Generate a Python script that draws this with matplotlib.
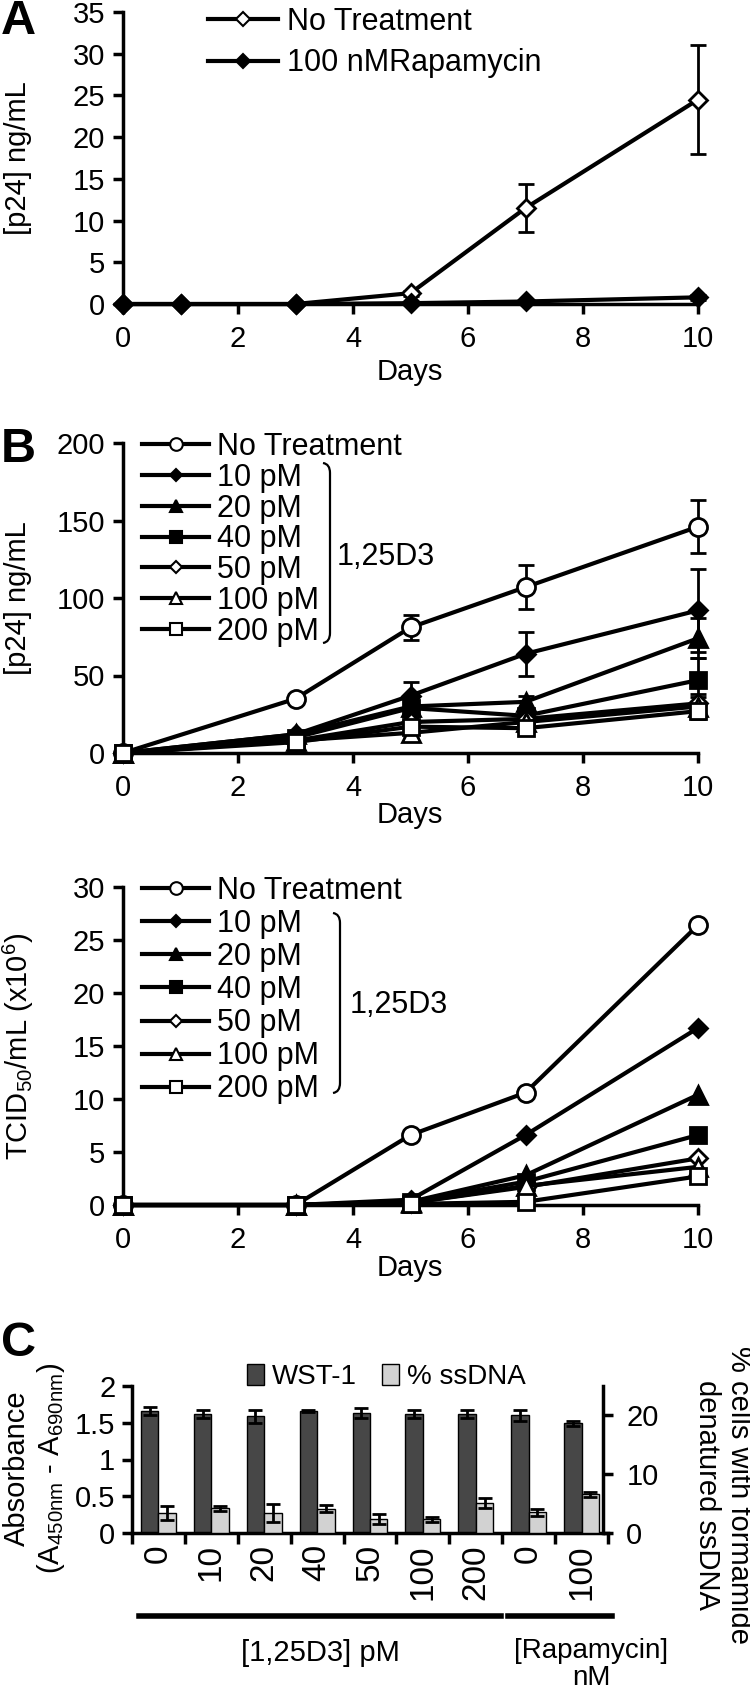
import matplotlib

matplotlib.use("Agg")

import matplotlib.pyplot as plt
import numpy as np
from matplotlib.lines import Line2D
from matplotlib.patches import Patch, PathPatch
from matplotlib.path import Path

plt.rcParams['font.family'] = ['Liberation Sans', 'DejaVu Sans']
plt.rcParams['mathtext.fontset'] = 'custom'
plt.rcParams['mathtext.rm'] = 'Liberation Sans'
plt.rcParams['mathtext.it'] = 'Liberation Sans:italic'

# ---------------------------
# data
# ---------------------------
# A: p24, rapamycin
a_days = [0, 1, 3, 5, 7, 10]
a_none = [0, 0, 0, 1.3, 11.5, 24.5]
a_none_err = [0, 0, 0, 0.3, 2.9, 6.5]
a_rapa = [0, 0, 0, 0.1, 0.3, 0.8]
a_rapa_err = [0, 0, 0, 0, 0.1, 0.3]
a_labels = ["No Treatment", "100 nMRapamycin"]

# B: 1,25D3 doses
b_days = [0, 3, 5, 7, 10]
b_labels = ["No Treatment", "10 pM", "20 pM", "40 pM", "50 pM", "100 pM", "200 pM"]

p24_none = [0, 35, 81, 107, 146]
p24_10 = [0, 12, 37, 64, 92]
p24_20 = [0, 12, 30, 33, 74]
p24_40 = [0, 10, 29, 24, 47]
p24_50 = [0, 8, 20, 22, 32]
p24_100 = [0, 8, 13, 20, 30]
p24_200 = [0, 7, 17, 16, 27]
p24_none_err = [0, 3, 8, 14, 17]
p24_10_err = [0, 2, 9, 14, 27]
p24_20_err = [0, 2, 4, 4, 13]
p24_40_err = [0, 2, 4, 3, 14]
p24_50_err = [0, 1, 3, 3, 4]
p24_100_err = [0, 1, 3, 3, 8]
p24_200_err = [0, 1, 3, 3, 4]

tcid_none = [0, 0, 6.6, 10.6, 26.4]
tcid_10 = [0, 0, 0.5, 6.6, 16.7]
tcid_20 = [0, 0, 0.3, 2.8, 10.4]
tcid_40 = [0, 0, 0.3, 2.2, 6.6]
tcid_50 = [0, 0, 0.2, 1.7, 4.4]
tcid_100 = [0, 0, 0.2, 1.8, 3.6]
tcid_200 = [0, 0, 0.1, 0.3, 2.7]

# C: viability bars
c_groups = ["0", "10", "20", "40", "50", "100", "200", "0", "100"]
wst1 = [1.66, 1.62, 1.59, 1.66, 1.63, 1.62, 1.62, 1.60, 1.49]
wst1_err = [0.05, 0.05, 0.09, 0.01, 0.07, 0.05, 0.05, 0.08, 0.04]
ssdna = [3.4, 4.2, 3.4, 4.1, 2.4, 2.3, 5.1, 3.5, 6.6]
ssdna_err = [1.2, 0.4, 1.6, 0.6, 0.8, 0.4, 0.85, 0.6, 0.4]

# ---------------------------
# layout helpers (pixels from top-left)
# ---------------------------
W, H = 750, 1691
fig = plt.figure(figsize=(7.5, 16.91), dpi=100)


def box(x0, y0, x1, y1):
    return [x0 / W, 1 - y1 / H, (x1 - x0) / W, (y1 - y0) / H]


def fx(x):
    return x / W


def fy(y):
    return 1 - y / H


LW = 3.0
SPINE = 2.5
TICK_FS = 21
LAB_FS = 21
LEG_FS = 22

# marker styles: (marker, filled, size)
styles = [('o', False, 13), ('D', True, 9), ('^', True, 13), ('s', True, 12),
          ('D', False, 9), ('^', False, 13), ('s', False, 12)]


def style_axes(ax):
    for s in ['top', 'right']:
        ax.spines[s].set_visible(False)
    for s in ['left', 'bottom']:
        ax.spines[s].set_linewidth(SPINE)
    ax.tick_params(direction='out', length=7, width=SPINE, labelsize=TICK_FS)
    ax.tick_params(axis='y', pad=6)
    ax.tick_params(axis='x', pad=8)
    ax.set_xlim(0, 10)
    ax.set_xticks(range(0, 11, 2))


def series(ax, y, err, marker, filled, ms):
    fc = 'black' if filled else 'white'
    ax.errorbar(b_days if len(y) == 5 else a_days, y, yerr=err, color='black', lw=LW,
                marker=marker, ms=ms, mfc=fc, mec='black', mew=2,
                capsize=6, capthick=2, elinewidth=2, clip_on=False, zorder=3)


def proxy(marker, filled, ms):
    return Line2D([], [], color='black', lw=LW, marker=marker, ms=ms,
                  mfc='black' if filled else 'white', mec='black', mew=1.5)


def bracket(x, y0, y1):
    verts = [(x - 7, y0), (x, y0 + 1), (x, y0 + 10), (x, y1 - 10), (x, y1 - 1), (x - 7, y1)]
    codes = [Path.MOVETO, Path.CURVE3, Path.CURVE3, Path.LINETO, Path.CURVE3, Path.CURVE3]
    p = Path([(fx(a), fy(b)) for a, b in verts], codes)
    fig.add_artist(PathPatch(p, fc='none', ec='black', lw=1.6, transform=fig.transFigure))


# ---------------------------
# A
# ---------------------------
axA = fig.add_axes(box(123, 12, 698, 304))
style_axes(axA)
axA.set_ylim(0, 35)
axA.set_yticks(range(0, 36, 5))
series(axA, a_none, a_none_err, 'D', False, 9)
series(axA, a_rapa, a_rapa_err, 'D', True, 9)
axA.legend([proxy('D', False, 9), proxy('D', True, 9)], a_labels,
           loc='upper left', bbox_to_anchor=((208 - 123) / 575, (304 - 7) / 292),
           frameon=False, fontsize=LEG_FS, handlelength=2.3, handletextpad=0.3,
           labelspacing=0.37, borderpad=0, borderaxespad=0, markerscale=0.75)
fig.text(fx(410), fy(372), "Days", ha='center', va='center', fontsize=LAB_FS)
fig.text(fx(18), fy(158), "[p24] ng/mL", rotation=90, ha='center', va='center', fontsize=LAB_FS)
fig.text(fx(1), fy(21), "A", ha='left', va='center', fontsize=35, fontweight='bold')

# ---------------------------
# B top: p24
# ---------------------------
p24_sets = [(p24_none, p24_none_err), (p24_10, p24_10_err), (p24_20, p24_20_err),
            (p24_40, p24_40_err), (p24_50, p24_50_err), (p24_100, p24_100_err),
            (p24_200, p24_200_err)]
axB = fig.add_axes(box(123, 443, 698, 753))
style_axes(axB)
axB.set_ylim(0, 200)
axB.set_yticks(range(0, 201, 50))
for (y, e), (m, f, s) in zip(p24_sets, styles):
    series(axB, y, e, m, f, s)
axB.legend([proxy(m, f, s) for m, f, s in styles], b_labels,
           loc='upper left', bbox_to_anchor=((142 - 123) / 575, (753 - 432) / 310),
           frameon=False, fontsize=LEG_FS, handlelength=2.2, handletextpad=0.25,
           labelspacing=0.025, borderpad=0, borderaxespad=0, markerscale=0.7)
bracket(330, 463, 643)
fig.text(fx(337), fy(557), "1,25D3", ha='left', va='center', fontsize=LEG_FS)
fig.text(fx(410), fy(815), "Days", ha='center', va='center', fontsize=LAB_FS)
fig.text(fx(18), fy(598), "[p24] ng/mL", rotation=90, ha='center', va='center', fontsize=LAB_FS)
fig.text(fx(1), fy(449), "B", ha='left', va='center', fontsize=35, fontweight='bold')

# ---------------------------
# B bottom: TCID50
# ---------------------------
tcid_sets = [tcid_none, tcid_10, tcid_20, tcid_40, tcid_50, tcid_100, tcid_200]
axT = fig.add_axes(box(123, 887, 698, 1205))
style_axes(axT)
axT.set_ylim(0, 30)
axT.set_yticks(range(0, 31, 5))
for y, (m, f, s) in zip(tcid_sets, styles):
    series(axT, y, None, m, f, s)
axT.legend([proxy(m, f, s) for m, f, s in styles], b_labels,
           loc='upper left', bbox_to_anchor=((142 - 123) / 575, (1205 - 876) / 318),
           frameon=False, fontsize=LEG_FS, handlelength=2.2, handletextpad=0.25,
           labelspacing=0.1, borderpad=0, borderaxespad=0, markerscale=0.7)
bracket(340, 913, 1093)
fig.text(fx(350), fy(1005), "1,25D3", ha='left', va='center', fontsize=LEG_FS)
fig.text(fx(410), fy(1268), "Days", ha='center', va='center', fontsize=LAB_FS)
fig.text(fx(18), fy(1046), r"TCID$_{\mathrm{50}}$/mL (x10$^{\mathrm{6}}$)", rotation=90,
         ha='center', va='center', fontsize=LAB_FS)

# ---------------------------
# C: bars
# ---------------------------
dark, light = '#474747', '#d2d2d2'
axC = fig.add_axes(box(132, 1386, 608, 1533))
axR = axC.twinx()
x = np.arange(len(c_groups))
bw = 0.33
axC.bar(x - bw / 2, wst1, bw, color=dark, edgecolor='black', lw=1,
        yerr=wst1_err, capsize=5, error_kw=dict(elinewidth=2, capthick=2), zorder=2)
axR.bar(x + bw / 2, ssdna, bw, color=light, edgecolor='black', lw=1,
        yerr=ssdna_err, capsize=5, error_kw=dict(elinewidth=2, capthick=2), zorder=2)
axC.set_xlim(-0.5, len(c_groups) - 0.5)
axC.set_ylim(0, 2)
axR.set_ylim(0, 25)
axC.set_yticks([0, 0.5, 1, 1.5, 2])
axC.set_yticklabels(["0", "0.5", "1", "1.5", "2"])
axR.set_yticks([0, 10, 20])
axC.set_xticks(np.arange(-0.5, len(c_groups)))
axC.set_xticklabels([])
axC.set_xticks(x, c_groups, minor=True)
for lab in axC.get_xticklabels(minor=True):
    lab.set_rotation(90)
axC.tick_params(axis='x', which='minor', length=0, labelsize=24, pad=8)
axC.tick_params(axis='x', which='major', direction='out', length=8, width=SPINE)
axC.tick_params(axis='y', direction='out', length=7, width=SPINE, labelsize=21, pad=5)
axR.tick_params(axis='y', direction='out', length=7, width=SPINE, labelsize=21, pad=10)
for a in (axC, axR):
    a.spines['top'].set_visible(False)
    for s in ['left', 'bottom', 'right']:
        a.spines[s].set_linewidth(SPINE)
axC.spines['right'].set_visible(False)
axR.spines['left'].set_visible(False)
axR.spines['bottom'].set_visible(False)
axR.spines['right'].set_position(('data', len(c_groups) - 0.6))

fig.legend([Patch(fc=dark, ec='black'), Patch(fc=light, ec='black')], ["WST-1", "% ssDNA"],
           loc='center left', bbox_to_anchor=(fx(247), fy(1377)), ncol=2, frameon=False,
           fontsize=20, handlelength=0.6, handleheight=0.8, handletextpad=0.3,
           columnspacing=0.9, borderpad=0, borderaxespad=0)

fig.text(fx(1), fy(1344), "C", ha='left', va='center', fontsize=35, fontweight='bold')
fig.text(fx(35), fy(1468), "Absorbance\n" + r"(A$_{\mathrm{450nm}}$ - A$_{\mathrm{690nm}}$)",
         rotation=90, ha='center', va='center', ma='center', fontsize=21, linespacing=1.2)
fig.text(fx(723), fy(1495), "% cells with formamide\ndenatured ssDNA",
         rotation=270, ha='center', va='center', ma='center', fontsize=21, linespacing=1.15)

fig.add_artist(Line2D([fx(139), fx(501)], [fy(1616), fy(1616)], lw=4, color='black'))
fig.add_artist(Line2D([fx(508), fx(612)], [fy(1616), fy(1616)], lw=4, color='black'))
fig.text(fx(320), fy(1653), "[1,25D3] pM", ha='center', va='center', fontsize=21)
fig.text(fx(591), fy(1638), "[Rapamycin]\nnM", ha='center', va='top', ma='center',
         fontsize=20, linespacing=1.05)

fig.savefig("out.png", dpi=100)
plt.close(fig)
